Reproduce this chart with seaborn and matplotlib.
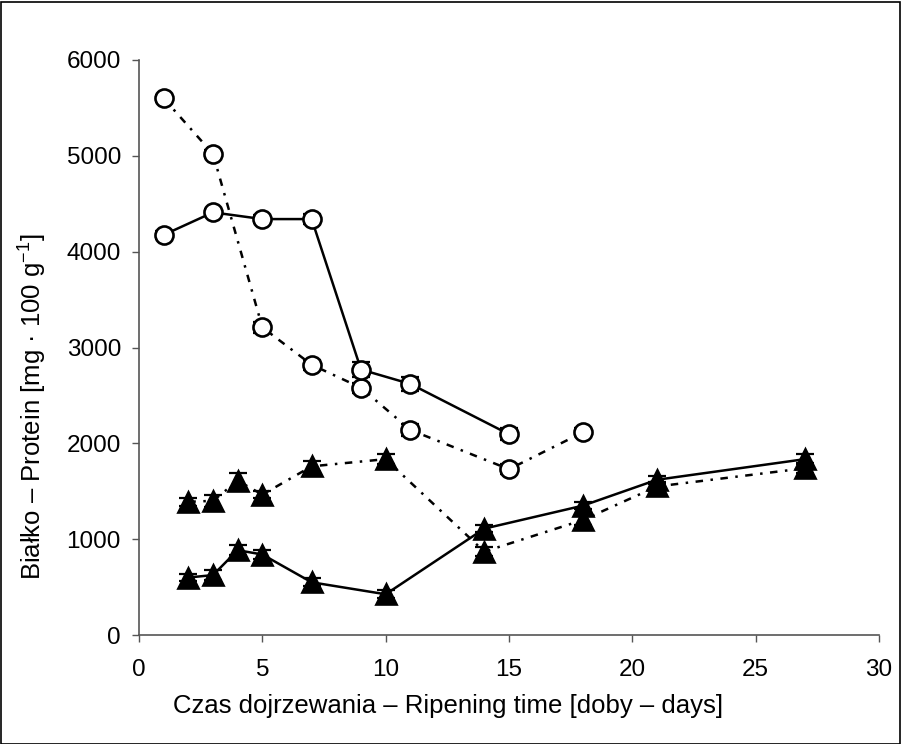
import numpy as np
import pandas as pd
import matplotlib
matplotlib.use("Agg")
import matplotlib.pyplot as plt
import seaborn as sns
from matplotlib.patches import Rectangle

# ---- data ----
x_circ_dash = [1, 3, 5, 7, 9, 11, 15, 18]
y_circ_dash = [5600, 5020, 3210, 2820, 2580, 2140, 1730, 2115]
e_circ_dash = [40, 40, 60, 50, 50, 60, 50, 40]

x_circ_solid = [1, 3, 5, 7, 9, 11, 15]
y_circ_solid = [4175, 4410, 4340, 4340, 2770, 2620, 2095]
e_circ_solid = [40, 40, 40, 50, 80, 70, 60]

x_tri_dash = [2, 3, 4, 5, 7, 10, 14, 18, 21, 27]
y_tri_dash = [1390, 1400, 1610, 1465, 1760, 1835, 870, 1200, 1550, 1740]
e_tri_dash = [40, 60, 80, 40, 60, 50, 50, 50, 50, 50]

x_tri_solid = [2, 3, 4, 5, 7, 10, 14, 18, 21, 27]
y_tri_solid = [600, 625, 885, 840, 550, 425, 1110, 1350, 1620, 1835]
e_tri_solid = [40, 50, 50, 50, 40, 40, 40, 40, 40, 50]

xticks = [0, 5, 10, 15, 20, 25, 30]
yticks = [0, 1000, 2000, 3000, 4000, 5000, 6000]

sns.set_style("ticks")
plt.rcParams['font.family'] = ['Liberation Sans', 'DejaVu Sans']
plt.rcParams['mathtext.fontset'] = 'custom'
plt.rcParams['mathtext.rm'] = 'Liberation Sans'
plt.rcParams['mathtext.it'] = 'Liberation Sans'
plt.rcParams['text.color'] = 'black'
plt.rcParams['axes.labelcolor'] = 'black'
plt.rcParams['xtick.color'] = 'black'
plt.rcParams['ytick.color'] = 'black'

fig = plt.figure(figsize=(9.01, 7.44), dpi=100)
ax = fig.add_axes([139/901, 1 - 635/744, (879-139)/901, (635-60)/744])

dash_pat = (0, (3, 3, 1, 3))

series = [
    (x_circ_dash, y_circ_dash, e_circ_dash, 'o', 'white', dash_pat),
    (x_circ_solid, y_circ_solid, e_circ_solid, 'o', 'white', '-'),
    (x_tri_dash, y_tri_dash, e_tri_dash, '^', 'black', dash_pat),
    (x_tri_solid, y_tri_solid, e_tri_solid, '^', 'black', '-'),
]

for xs, ys, es, mk, fc, ls in series:
    df = pd.DataFrame({'x': xs, 'y': ys})
    ax.errorbar(xs, ys, yerr=es, fmt='none', ecolor='black', elinewidth=1.3,
                capsize=6.5, capthick=1.6, zorder=2)
    sns.lineplot(data=df, x='x', y='y', ax=ax, color='black', linewidth=1.8,
                 linestyle=ls, marker=mk, markersize=13 if mk == 'o' else 14,
                 markerfacecolor=fc, markeredgecolor='black',
                 markeredgewidth=1.9, zorder=3, estimator=None, sort=False)

ax.set_xlim(0, 30)
ax.set_ylim(0, 6000)
ax.set_xticks(xticks)
ax.set_yticks(yticks)
ax.tick_params(axis='both', labelsize=17.5, length=5, width=1, color='#555555',
               labelcolor='black', direction='out')
ax.tick_params(axis='y', pad=8)
ax.tick_params(axis='x', pad=12)
for s in ['top', 'right']:
    ax.spines[s].set_visible(False)
for s in ['left', 'bottom']:
    ax.spines[s].set_color('#555555')
    ax.spines[s].set_linewidth(1.2)

ax.set_xlabel('Czas dojrzewania – Ripening time [doby – days]', fontsize=18.5,
              color='black')
ax.set_ylabel(r'Białko – Protein [mg · 100 g$^{-1}$]', fontsize=18.5,
              color='black')
ax.xaxis.set_label_coords((448 - 139) / 740, (635 - 694) / 575)
ax.yaxis.set_label_coords((49 - 139) / 740, (635 - 407) / 575)

fig.patches.append(Rectangle((0.5/901, 0.5/744), 1 - 2/901, 1 - 2/744,
                             transform=fig.transFigure, fill=False,
                             edgecolor='black', linewidth=1.2))

fig.savefig('out.png', dpi=100)
